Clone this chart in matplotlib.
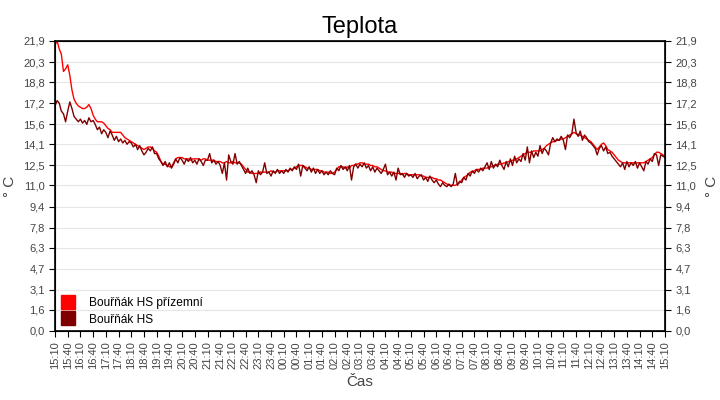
import numpy as np
import matplotlib.pyplot as plt
import pandas as pd
from matplotlib.lines import Line2D

plt.rcParams['font.family'] = ['Liberation Sans', 'DejaVu Sans']

# minutes since 15:10, sampled every 5 min
minutes = np.arange(0, 1445, 5)

# Bouřňák HS přízemní (red)
prizemni = [
    21.6, 21.9, 21.3, 20.9, 19.6, 19.8, 20.1, 19.3, 18.2, 17.5, 17.2, 17.0,
    16.9, 16.8, 16.8, 16.9, 17.1, 16.8, 16.3, 16.0, 15.8, 15.8, 15.8, 15.7,
    15.5, 15.3, 15.2, 15.0, 15.0, 15.0, 15.0, 15.0, 14.8, 14.6, 14.5, 14.4,
    14.3, 14.2, 14.1, 14.0, 13.9, 13.8, 13.7, 13.8, 13.9, 13.9, 13.8, 13.6,
    13.5, 13.2, 12.8, 12.6, 12.6, 12.5, 12.4, 12.4, 12.7, 13.0, 13.1, 13.1,
    13.1, 13.0, 13.0, 13.0, 12.9, 13.0, 13.0, 13.0, 13.0, 12.9, 13.0, 13.0,
    12.9, 12.9, 12.9, 12.9, 12.8, 12.8, 12.8, 12.7, 12.7, 12.8, 12.7, 12.7,
    12.8, 12.7, 12.7, 12.7, 12.6, 12.4, 12.2, 12.0, 12.0, 11.9, 11.9, 11.9,
    11.9, 12.0, 12.0, 12.0, 12.0, 12.0, 12.1, 12.0, 12.0, 12.1, 12.1, 12.1,
    12.1, 12.1, 12.1, 12.2, 12.2, 12.3, 12.4, 12.5, 12.5, 12.5, 12.4, 12.3,
    12.3, 12.2, 12.2, 12.2, 12.2, 12.1, 12.1, 12.0, 12.0, 12.0, 11.9, 11.9,
    12.0, 12.2, 12.4, 12.4, 12.4, 12.3, 12.4, 12.3, 12.5, 12.5, 12.6, 12.6,
    12.7, 12.7, 12.6, 12.6, 12.6, 12.5, 12.5, 12.4, 12.4, 12.3, 12.2, 12.1,
    12.1, 12.0, 12.0, 12.0, 11.9, 11.9, 11.9, 11.9, 11.8, 11.9, 11.9, 11.8,
    11.8, 11.8, 11.8, 11.8, 11.8, 11.7, 11.7, 11.6, 11.6, 11.6, 11.6, 11.5,
    11.5, 11.4, 11.4, 11.3, 11.2, 11.1, 11.0, 11.0, 11.0, 11.0, 11.1, 11.2,
    11.4, 11.6, 11.7, 11.8, 12.0, 12.0, 12.1, 12.2, 12.2, 12.2, 12.3, 12.3,
    12.3, 12.4, 12.4, 12.5, 12.5, 12.6, 12.6, 12.6, 12.7, 12.7, 12.8, 12.8,
    12.9, 12.9, 13.0, 13.1, 13.2, 13.3, 13.4, 13.5, 13.5, 13.5, 13.6, 13.6,
    13.6, 13.6, 13.7, 13.8, 14.0, 14.1, 14.2, 14.3, 14.3, 14.4, 14.4, 14.5,
    14.5, 14.6, 14.7, 14.8, 14.9, 15.0, 14.9, 14.8, 14.8, 14.7, 14.6, 14.5,
    14.4, 14.3, 14.1, 13.9, 13.7, 13.9, 14.1, 14.2, 14.0, 13.7, 13.6, 13.5,
    13.3, 13.1, 12.9, 12.8, 12.7, 12.7, 12.7, 12.7, 12.7, 12.7, 12.7, 12.7,
    12.7, 12.7, 12.7, 12.8, 12.9, 13.0, 13.1, 13.3, 13.5, 13.5, 13.4, 13.3,
    13.2,
]

# Bouřňák HS (dark red)
hs = [
    17.0, 17.4, 17.2, 16.6, 16.4, 15.8, 16.6, 17.3, 16.8, 16.2, 16.0, 15.8,
    16.0, 15.7, 15.9, 15.6, 16.1, 15.8, 15.9, 15.6, 15.2, 15.4, 14.9, 15.2,
    15.0, 14.6, 15.1, 14.8, 14.4, 14.7, 14.3, 14.5, 14.2, 14.4, 14.1, 14.3,
    14.2, 13.9, 14.1, 13.7, 14.0, 13.6, 13.3, 13.5, 13.8, 13.6, 13.9, 13.4,
    13.4, 13.0, 12.8, 12.5, 12.8, 12.4, 12.7, 12.3, 12.6, 13.0, 12.7, 13.1,
    12.9, 12.6, 13.0, 12.8, 13.1, 12.7, 12.9, 12.6, 13.0, 12.8, 12.5, 12.9,
    12.9, 13.4, 12.7, 12.9, 12.6, 12.8, 12.5, 11.9, 12.7, 11.4, 13.3, 12.8,
    12.6, 13.4, 12.6, 12.8, 12.5, 12.2, 11.9, 12.3, 11.9, 12.1, 11.8, 11.2,
    12.1, 11.8, 12.0, 12.7, 11.9, 12.0, 11.7, 12.1, 11.9, 12.2, 11.9, 12.1,
    11.9, 12.2, 12.0, 12.3, 12.1, 12.4, 12.2, 12.6, 11.7, 12.5, 12.3, 12.1,
    12.4, 12.0, 12.3, 11.9, 12.2, 11.9, 12.1, 11.8, 12.0, 11.8, 12.1, 11.9,
    11.8, 12.3, 12.1, 12.5, 12.2, 12.4, 12.1, 12.5, 11.4, 12.4, 12.6, 12.3,
    12.6, 12.4, 12.7, 12.3, 12.5, 12.1, 12.4, 12.0, 12.3, 12.1, 11.9, 12.2,
    12.6, 11.8, 12.0, 11.7, 12.0, 11.4, 12.3, 11.8, 11.9, 11.6, 11.9, 11.7,
    11.8, 11.6, 11.9, 11.5, 11.7, 11.8, 11.4, 11.6, 11.3, 11.7, 11.4, 11.2,
    11.4, 11.1, 10.9, 11.2, 11.0, 10.9, 11.1, 10.9, 11.1, 11.9, 11.0, 11.3,
    11.2, 11.6, 11.4, 11.9, 11.7, 12.1, 11.9, 12.2, 12.0, 12.3, 12.1, 12.4,
    12.7, 12.2, 12.8, 12.3, 12.6, 12.4, 12.9, 12.5, 12.2, 12.8, 12.4, 13.0,
    12.5, 13.2, 12.7, 13.0, 12.8, 13.4, 12.9, 13.9, 12.7, 13.6, 13.1, 13.5,
    13.2, 14.0, 13.4, 13.8, 13.6, 13.3, 14.2, 14.6, 14.3, 14.5, 14.4, 14.7,
    14.4, 13.7, 14.8, 14.6, 14.9, 16.0, 15.0, 14.7, 15.1, 14.4, 14.8, 14.6,
    14.3, 14.2, 14.0, 13.8, 13.3, 13.8, 14.0, 13.6, 13.9, 13.4, 13.5, 13.2,
    13.0, 12.8, 12.6, 12.4, 12.7, 12.2, 12.8, 12.4, 12.7, 12.5, 12.8, 12.3,
    12.7, 12.4, 12.1, 12.8, 12.6, 13.0, 12.8, 13.4, 13.3, 12.5, 13.3, 13.2,
    13.1,
]

y_ticks = [0.0, 1.6, 3.1, 4.7, 6.3, 7.8, 9.4, 11.0, 12.5, 14.1, 15.6, 17.2, 18.8, 20.3, 21.9]
x_ticks = np.arange(0, 1441, 30)
x_labels = pd.date_range("2020-01-01 15:10", periods=len(x_ticks), freq="30min").strftime("%H:%M")
y_labels = [f"{v:.1f}".replace(".", ",") for v in y_ticks]

fig = plt.figure(figsize=(7.2, 4), dpi=100)
ax = fig.add_axes([55 / 720, 69 / 400, 610 / 720, 290 / 400])

ax.plot(minutes, prizemni, color="#ff0000", lw=1.0)
ax.plot(minutes, hs, color="#800000", lw=1.0)

ax.set_xlim(0, 1440)
ax.set_ylim(0, 21.9)
ax.set_yticks(y_ticks)
ax.set_yticklabels(y_labels)
ax.set_xticks(x_ticks)
ax.set_xticklabels(x_labels, rotation=90)
ax.grid(axis="y", color="#e6e6e6", lw=0.8)
ax.set_axisbelow(True)
ax.tick_params(labelsize=8, labelcolor="#444444", color="black", length=4, width=0.8)
for s in ax.spines.values():
    s.set_linewidth(1.2)

ax2 = ax.twinx()
ax2.set_ylim(0, 21.9)
ax2.set_yticks(y_ticks)
ax2.set_yticklabels(y_labels)
ax2.tick_params(labelsize=8, labelcolor="#444444", color="black", length=4, width=0.8)

ax.set_ylabel("° C", fontsize=11, color="#444444", labelpad=4)
ax2.set_ylabel("° C", fontsize=11, color="#444444", labelpad=6)
ax.set_xlabel("Čas", fontsize=11, color="#444444", labelpad=4)
ax.set_title("Teplota", fontsize=17, pad=6)

handles = [
    Line2D([], [], ls="none", marker="s", ms=10, color="#ff0000", label="Bouřňák HS přízemní"),
    Line2D([], [], ls="none", marker="s", ms=10, color="#800000", label="Bouřňák HS"),
]
ax2.legend(handles=handles, loc="lower left", bbox_to_anchor=(0.003, 0.0), frameon=False,
           fontsize=8.6, handlelength=1.0, handletextpad=1.25, borderaxespad=0.15,
           labelspacing=0.35, borderpad=0.3)

fig.savefig("out.png", dpi=100)
